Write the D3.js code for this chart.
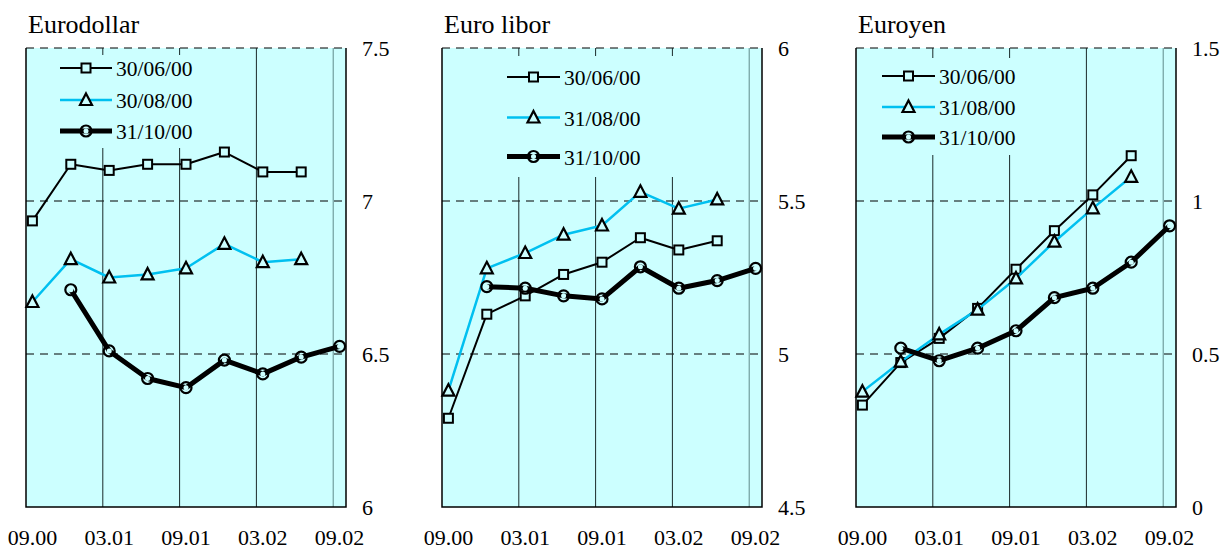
<!DOCTYPE html>
<html>
<head>
<meta charset="utf-8">
<script src="https://cdn.jsdelivr.net/npm/d3@7"></script>
<style>
    body { margin: 0; background: #ffffff; }
</style>
</head>
<body>
<svg id="drawing_region"></svg>
<script>
// quarterly contracts, plotted at mid-month (months after 09.00)
const contracts = ['09.00', '12.00', '03.01', '06.01', '09.01', '12.01', '03.02', '06.02', '09.02'];
const tickLabels = ['09.00', '03.01', '09.01', '03.02', '09.02'];

const usdJun = [6.935, 7.12, 7.10, 7.12, 7.12, 7.16, 7.095, 7.095, null];
const usdAug = [6.67, 6.81, 6.75, 6.76, 6.78, 6.86, 6.80, 6.81, null];
const usdOct = [null, 6.71, 6.51, 6.42, 6.39, 6.48, 6.435, 6.49, 6.525];

const eurJun = [4.79, 5.13, 5.19, 5.26, 5.30, 5.38, 5.34, 5.37, null];
const eurAug = [4.88, 5.28, 5.33, 5.39, 5.42, 5.53, 5.475, 5.505, null];
const eurOct = [null, 5.22, 5.215, 5.19, 5.18, 5.285, 5.215, 5.24, 5.28];

const jpyJun = [0.333, 0.472, 0.551, 0.649, 0.777, 0.903, 1.02, 1.148, null];
const jpyAug = [0.377, 0.475, 0.564, 0.645, 0.747, 0.867, 0.976, 1.079, null];
const jpyOct = [null, 0.519, 0.478, 0.519, 0.576, 0.684, 0.715, 0.80, 0.919];

const usdNames = ['30/06/00', '30/08/00', '31/10/00'];
const otherNames = ['30/06/00', '31/08/00', '31/10/00'];

const FONT = '"Liberation Serif"';

const svg = d3.select('#drawing_region')
    .attr('width', 1229)
    .attr('height', 549);

class RatePanel {

    constructor(config, series) {
        this.config = config;
        this.series = series;
        this.init();
    }

    init() {
        let self = this;
        const c = self.config;

        self.chart = svg.append('g')
            .attr('transform', `translate(${c.left}, 48)`);

        self.inner_width = 320;
        self.inner_height = 459;

        self.xscale = d3.scaleLinear()
            .domain([0, 25])
            .range([0, self.inner_width]);

        self.yscale = d3.scaleLinear()
            .domain(c.domain)
            .range([self.inner_height, 0]);

        self.chart.append('text')
            .attr('x', 2)
            .attr('y', -15)
            .style('font-family', FONT)
            .style('font-size', '26px')
            .text(c.title);
    }

    render() {
        let self = this;
        const c = self.config;
        const W = self.inner_width, H = self.inner_height;

        self.chart.append('rect')
            .attr('width', W)
            .attr('height', H)
            .attr('fill', '#ccffff');

        const yticks = d3.range(c.domain[0], c.domain[1] + 0.01, 0.5);

        // dashed horizontal grid
        self.chart.selectAll('.hgrid')
            .data(yticks.slice(1))
            .enter()
            .append('line')
            .attr('x1', 0)
            .attr('x2', W)
            .attr('y1', d => self.yscale(d))
            .attr('y2', d => self.yscale(d))
            .attr('stroke', '#000')
            .attr('stroke-width', 1)
            .attr('stroke-dasharray', '8,6');

        // vertical grid at each half year
        self.chart.selectAll('.vgrid')
            .data([6, 12, 18, 24])
            .enter()
            .append('line')
            .attr('x1', d => self.xscale(d))
            .attr('x2', d => self.xscale(d))
            .attr('y1', 0)
            .attr('y2', H)
            .attr('stroke', d => d == 24 ? '#5f8a8a' : '#1a2a2a')
            .attr('stroke-width', 1);

        // legend box hides the grid under it
        self.chart.append('rect')
            .attr('x', c.box[0] - c.left)
            .attr('y', c.box[1] - 48)
            .attr('width', c.box[2])
            .attr('height', c.box[3])
            .attr('fill', '#ccffff');

        // frame: left, bottom, right
        self.chart.append('path')
            .attr('d', `M0,0V${H}H${W}V0`)
            .attr('fill', 'none')
            .attr('stroke', '#000')
            .attr('stroke-width', 1.5);

        // right axis labels
        self.chart.selectAll('.ylab')
            .data(yticks)
            .enter()
            .append('text')
            .attr('x', W + 16)
            .attr('y', d => self.yscale(d) + 7.5)
            .style('font-family', FONT)
            .style('font-size', '22px')
            .text(d => d3.format('~g')(+d.toFixed(1)));

        // bottom labels
        self.chart.selectAll('.xlab')
            .data(tickLabels)
            .enter()
            .append('text')
            .attr('x', d => self.xscale(contracts.indexOf(d) * 3 + 0.5))
            .attr('y', H + 38)
            .attr('text-anchor', 'middle')
            .style('font-family', FONT)
            .style('font-size', '22px')
            .text(d => d);

        const styles = [
            { color: '#000', width: 2, marker: 'square' },
            { color: '#00c0f0', width: 2.5, marker: 'triangle' },
            { color: '#000', width: 5, marker: 'circle' }
        ];

        const line = d3.line()
            .defined(d => d.v != null)
            .x(d => self.xscale(d.m))
            .y(d => self.yscale(d.v));

        self.series.forEach((values, k) => {
            const s = styles[k];
            const pts = values.map((v, i) => ({ m: i * 3 + 0.5, v: v }));
            self.chart.append('path')
                .datum(pts)
                .attr('d', line)
                .attr('fill', 'none')
                .attr('stroke', s.color)
                .attr('stroke-width', s.width)
                .attr('stroke-linejoin', 'round');
            pts.filter(d => d.v != null).forEach(d => {
                self.marker(self.chart, s.marker, self.xscale(d.m), self.yscale(d.v));
            });
        });

        // legend
        c.names.forEach((name, k) => {
            const s = styles[k];
            const y = c.legend.y[k] - 48;
            const x0 = c.legend.x0 - c.left, x1 = c.legend.x1 - c.left;
            self.chart.append('line')
                .attr('x1', x0).attr('x2', x1)
                .attr('y1', y).attr('y2', y)
                .attr('stroke', s.color)
                .attr('stroke-width', s.width);
            self.marker(self.chart, s.marker, (x0 + x1) / 2, y);
            self.chart.append('text')
                .attr('x', x1 + 4)
                .attr('y', y + 8)
                .style('font-family', FONT)
                .style('font-size', '21.5px')
                .text(name);
        });
    }

    marker(g, type, x, y) {
        if (type == 'square') {
            g.append('rect')
                .attr('x', x - 4.5).attr('y', y - 4.5)
                .attr('width', 9).attr('height', 9)
                .attr('fill', '#ccffff')
                .attr('stroke', '#000')
                .attr('stroke-width', 2);
        } else if (type == 'triangle') {
            g.append('path')
                .attr('d', `M${x},${y - 6.5}L${x + 6},${y + 5}L${x - 6},${y + 5}Z`)
                .attr('fill', '#ccffff')
                .attr('stroke', '#000')
                .attr('stroke-width', 2.2);
        } else {
            g.append('circle')
                .attr('cx', x).attr('cy', y)
                .attr('r', 5.5)
                .attr('fill', 'none')
                .attr('stroke', '#000')
                .attr('stroke-width', 2.2);
            g.append('circle')
                .attr('cx', x).attr('cy', y)
                .attr('r', 2.5)
                .attr('fill', '#ccffff');
        }
    }
}

const panels = [
    new RatePanel({
        left: 26, title: 'Eurodollar', domain: [6, 7.5], names: usdNames,
        box: [40, 55, 180, 93],
        legend: { x0: 60, x1: 112, y: [68, 100, 131] }
    }, [usdJun, usdAug, usdOct]),
    new RatePanel({
        left: 442, title: 'Euro libor', domain: [4.5, 6], names: otherNames,
        box: [490, 56, 210, 121],
        legend: { x0: 507, x1: 560, y: [77, 117.5, 156.5] }
    }, [eurJun, eurAug, eurOct]),
    new RatePanel({
        left: 856, title: 'Euroyen', domain: [0, 1.5], names: otherNames,
        box: [868, 58, 170, 97],
        legend: { x0: 882, x1: 935, y: [76, 107, 137] }
    }, [jpyJun, jpyAug, jpyOct])
];

panels.forEach(p => p.render());
</script>
</body>
</html>
